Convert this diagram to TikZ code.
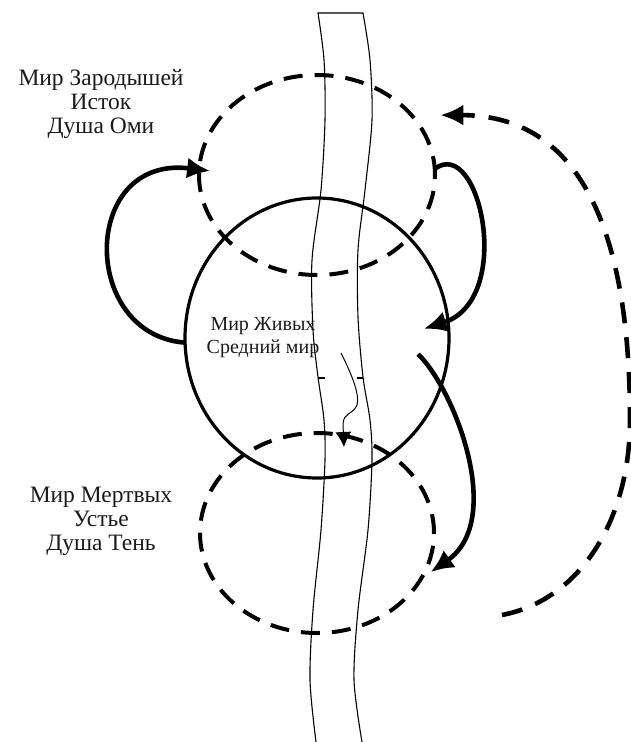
\documentclass[tikz,border=0pt]{standalone}
\usepackage{fontspec}
\setmainfont{Liberation Serif}
\usepackage{tikz}
\usetikzlibrary{shapes.geometric, arrows.meta, positioning}
\definecolor{ink}{HTML}{1A1A1A}

\begin{document}
\begin{tikzpicture}[
        x=1pt, y=-1pt,
        realm/.style={ellipse, draw, line width=3.2pt, inner sep=0pt, outer sep=0pt},
        shade/.style={realm, line width=4pt, dash pattern=on 19pt off 12pt},
        worldname/.style={align=center, text=ink, font=\fontsize{23.5}{24}\selectfont},
        midname/.style={align=center, text=ink, font=\fontsize{20}{23}\selectfont},
        river/.style={line width=1.1pt},
        flow/.style={line width=4.6pt, -{Latex[length=23pt, width=21pt]}},
        back/.style={flow, dash pattern=on 21pt off 14pt},
        seep/.style={line width=1pt, -{Latex[length=15pt, width=16pt]}}
    ]
        \useasboundingbox (0,0) rectangle (631,742);

        % River
        \draw [river] plot [smooth] coordinates {(316,742) (310,680) (313,610) (321,530) (325,460) (324,420) (318,377) (313,330) (312,260) (321,190) (325,120) (324,60) (318,13)}
            -- plot [smooth] coordinates {(363,13) (370,60) (372,120) (365,190) (358,250) (358,317) (363,377) (370,420) (372,460) (368,530) (358,610) (354,680) (362,742)};
        \draw [river] (318,378) -- (325,378);
        \draw [river] (357,378) -- (363,378);

        % Worlds
        \node (zarod) [shade, minimum width=236pt, minimum height=200pt] at (317,175) {};
        \node (zhivyh) [realm, minimum width=264pt, minimum height=280pt] at (317,338) {};
        \node (mertv) [shade, minimum width=234pt, minimum height=200pt] at (317,533) {};

        % Labels
        \node (lzarod) [worldname] at (101,104) {Мир Зародышей\\Исток\\Душа Оми};
        \node (lzhivyh) [midname] at (263,338) {Мир Живых\\Средний мир};
        \node (lmertv) [worldname] at (101,521) {Мир Мертвых\\Устье\\Душа Тень};

        \coordinate (ret) at (502,615);
        \coordinate (src) at (341,353);
        \coordinate (snk) at (344,447);

        % Arrows
        \draw [flow] (zhivyh.182) .. controls (80,335) and (80,155) .. ([xshift=11pt]zarod.178);
        \draw [flow] (zarod.3) .. controls (480,135) and (515,300) .. ([xshift=-25pt]zhivyh.4);
        \draw [flow] ([xshift=-30pt]zhivyh.-7) .. controls (455,390) and (505,520) .. ([xshift=6pt]mertv.-20);
        \draw [back] (ret) .. controls (580,600) and (630,520) .. (630,420) .. controls (630,230) and (580,115) .. ([shift={(21pt,10pt)}]zarod.26);
        \draw [seep] (src) .. controls (352,375) and (360,395) .. (357,405) .. controls (353,415) and (343,412) .. (343,425) -- (snk);
    \end{tikzpicture}
\end{document}
